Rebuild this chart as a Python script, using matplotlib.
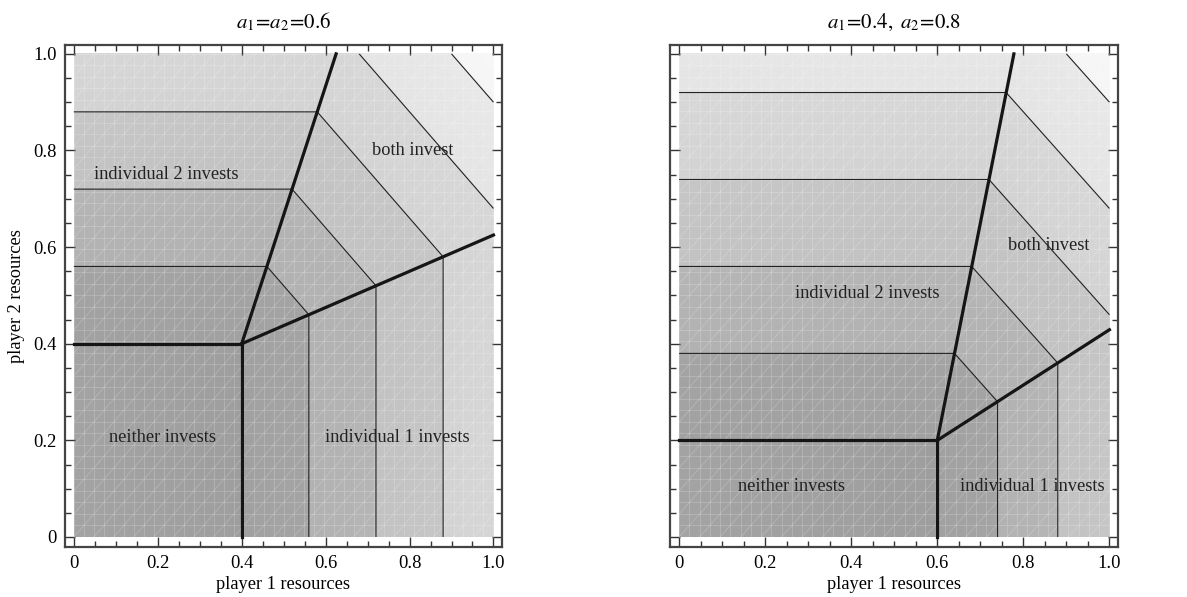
import matplotlib.pyplot as plt
import numpy as np

plt.rcParams['font.family'] = ['Liberation Serif', 'DejaVu Serif']
plt.rcParams['mathtext.fontset'] = 'stix'

# panel parameters
titles = [r'$a_1\!=\!a_2\!=\!0.6$', r'$a_1\!=\!0.4,\ a_2\!=\!0.8$']
thresh_x = [0.4, 0.6]      # player 1 threshold
thresh_y = [0.4, 0.2]      # player 2 threshold
step_x = [0.16, 0.14]      # contour spacing in "individual 1" region
step_y = [0.16, 0.18]      # contour spacing in "individual 2" region
diag_base = 0.8            # x+y offset of "both" contours
diag_step = 0.22           # x+y spacing of "both" contours
levels = [1, 2, 3, 4, 5]

# thick region boundaries: corner -> top edge, corner -> right edge
top_end_x = [0.625, 0.778]
right_end_y = [0.625, 0.429]

labels = ['neither invests', 'individual 1 invests', 'individual 2 invests', 'both invest']
label_pos = [
    [(0.212, 0.206), (0.77, 0.206), (0.22, 0.75), (0.808, 0.80)],
    [(0.262, 0.104), (0.82, 0.104), (0.438, 0.505), (0.858, 0.603)],
]

ticks = [0, 0.2, 0.4, 0.6, 0.8, 1.0]
tick_labels = ['0', '0.2', '0.4', '0.6', '0.8', '1.0']

fig = plt.figure(figsize=(11.87, 5.97), dpi=100)
axes = [fig.add_axes([0.0548, 0.0838, 0.368, 0.841]),
        fig.add_axes([0.5645, 0.0838, 0.3774, 0.841])]

g = np.linspace(0, 1, 601)
X, Y = np.meshgrid(g, g)

for i, ax in enumerate(axes):
    r1 = (X - thresh_x[i]) / step_x[i]
    r2 = (Y - thresh_y[i]) / step_y[i]
    rb = (X + Y - diag_base) / diag_step
    f = np.maximum(np.maximum(r1, r2), np.maximum(rb, 0))

    shade = 0.63 + 0.05 * np.floor(f) + 0.016 * f
    shade = np.where(f <= 0, 0.62 + 0.02 * (1 - X / thresh_x[i]), shade)
    ax.imshow(shade, extent=[0, 1, 0, 1], origin='lower', cmap='gray',
              vmin=0, vmax=1, interpolation='bilinear', aspect='auto', zorder=1)

    # faint mesh texture
    mesh = np.linspace(0, 1, 43)
    for m in mesh:
        ax.plot([m, m], [0, 1], color='white', lw=0.5, alpha=0.25, zorder=2)
        ax.plot([0, 1], [m, m], color='white', lw=0.5, alpha=0.25, zorder=2)
    for m in np.linspace(-1, 1, 43):
        ax.plot([max(0, m), min(1, 1 + m)], [max(0, -m), min(1, 1 - m)],
                color='white', lw=0.5, alpha=0.25, zorder=2)

    ax.contour(g, g, f, levels=levels, colors='#222222', linewidths=0.8, zorder=3)

    tx, ty = thresh_x[i], thresh_y[i]
    ax.plot([0, tx], [ty, ty], color='#151515', lw=2.3, zorder=4)
    ax.plot([tx, tx], [0, ty], color='#151515', lw=2.3, zorder=4)
    ax.plot([tx, top_end_x[i]], [ty, 1.0], color='#151515', lw=2.3, zorder=4)
    ax.plot([tx, 1.0], [ty, right_end_y[i]], color='#151515', lw=2.3, zorder=4)

    for lab, (px, py) in zip(labels, label_pos[i]):
        ax.text(px, py, lab, ha='center', va='center', fontsize=13.2,
                color='#222222', zorder=5)

    ax.set_xlim(-0.021, 1.02)
    ax.set_ylim(-0.0207, 1.0186)
    ax.set_xticks(ticks)
    ax.set_xticklabels(tick_labels)
    ax.set_yticks(ticks)
    ax.set_yticklabels(tick_labels if i == 0 else [])
    ax.set_xticks(np.arange(0, 1.001, 0.05), minor=True)
    ax.set_yticks(np.arange(0, 1.001, 0.05), minor=True)
    ax.tick_params(which='both', direction='in', top=True, right=True,
                   labelsize=13.3, color='#333333', pad=6)
    ax.tick_params(which='major', length=7, width=1)
    ax.tick_params(which='minor', length=4, width=1)
    for s in ax.spines.values():
        s.set_color('#444444')
        s.set_linewidth(1.6)
    ax.set_xlabel('player 1 resources', fontsize=13.2, labelpad=3)
    ax.set_title(titles[i], fontsize=15, pad=12)

axes[0].set_ylabel('player 2 resources', fontsize=13.2, labelpad=6)

fig.savefig('out.png', dpi=100)
